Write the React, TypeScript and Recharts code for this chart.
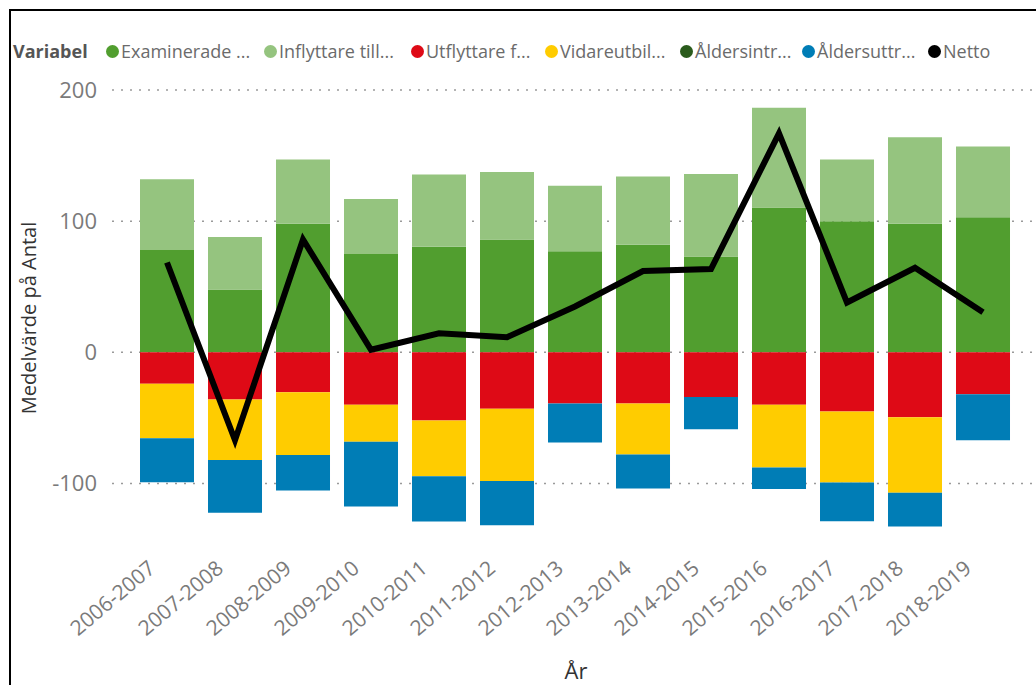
import React from 'react';
import { ComposedChart, Bar, Line, XAxis, YAxis, CartesianGrid } from 'recharts';

const categories = ['2006-2007', '2007-2008', '2008-2009', '2009-2010', '2010-2011', '2011-2012', '2012-2013', '2013-2014', '2014-2015', '2015-2016', '2016-2017', '2017-2018', '2018-2019'];
const examinerade = [78, 48, 98, 75, 80.5, 86, 77, 82, 73, 110.5, 100, 98, 103];
const inflyttare = [54, 40, 49, 42, 55, 51.5, 50, 52, 63, 76, 47, 66, 54];
const utflyttare = [-24, -36, -30.5, -40, -52, -43, -39, -39, -34, -40, -45, -49.5, -32];
const vidareutbildning = [-41.5, -46, -47.7, -28.2, -42.4, -55.1, 0, -38.9, 0, -47.8, -54.3, -57.6, 0];
const aldersintrade = [0, 0, 0, 0, 0, 0, 0, 0, 0, 0, 0, 0, 0];
const aldersuttrade = [-33.5, -40.3, -27.1, -49.3, -34.6, -33.8, -29.7, -25.8, -24.6, -16.4, -29.5, -25.6, -35.1];
const netto = [68.5, -67, 86, 2, 14.5, 11.5, 35, 62, 63.5, 167, 38, 64.5, 30.5];
const yTicks = [-100, 0, 100, 200];

const seriesNames = ['Examinerade ...', 'Inflyttare till...', 'Utflyttare f...', 'Vidareutbil...', 'Åldersintr...', 'Åldersuttr...', 'Netto'];
const seriesColors = ['#519E2F', '#95C47F', '#DE0A16', '#FFCC00', '#2A5B1C', '#007DB6', '#000000'];
const legendX = [113, 271, 418, 552, 687, 809, 935];

const data = categories.map((c, i) => ({
  year: c,
  examinerade: examinerade[i],
  inflyttare: inflyttare[i],
  utflyttare: utflyttare[i],
  vidare: vidareutbildning[i],
  aldersintr: aldersintrade[i],
  aldersuttr: aldersuttrade[i],
  netto: netto[i],
}));

const FONT = '"Open Sans", "Noto Sans", sans-serif';

const XTick = (props: any) => {
  const { x, y, payload } = props;
  return (
    <g transform={`translate(${x - 20},${y + 23})`}>
      <text x={0} y={0} dy="0.72em" textAnchor="end" transform="rotate(-40)" fill="#7a7a7a" fontSize={21} fontFamily={FONT}>
        {payload.value}
      </text>
    </g>
  );
};

export default function App() {
  return (
    <div style={{ position: 'absolute', left: 0, top: 0, width: 1036, height: 685, background: '#fff', overflow: 'hidden', fontFamily: FONT }}>
      <div style={{ position: 'absolute', left: 9, top: 9, width: 1027, height: 676, borderLeft: '2px solid #000', borderTop: '2px solid #000', boxSizing: 'border-box' }} />
      <div style={{ position: 'absolute', left: 13, top: 38, fontSize: 18, fontWeight: 700, color: '#555', lineHeight: '26px' }}>Variabel</div>
      {seriesNames.map((n, i) => (
        <div key={n} style={{ position: 'absolute', left: legendX[i] - 7, top: 38, height: 26, display: 'flex', alignItems: 'center', fontSize: 18, color: '#6b6b6b', whiteSpace: 'nowrap' }}>
          <span style={{ display: 'inline-block', width: 13, height: 13, borderRadius: '50%', background: seriesColors[i], marginRight: 2 }} />
          <span>{n}</span>
        </div>
      ))}
      <div style={{ position: 'absolute', left: 0, top: 0 }}>
        <ComposedChart width={1036} height={685} data={data} stackOffset="sign" margin={{ top: 90, right: 3, bottom: 0, left: 0 }} barCategoryGap="10.3%">
          <CartesianGrid vertical={false} horizontalValues={yTicks} stroke="#9a9a9a" strokeDasharray="2 7" strokeWidth={1.5} />
          <XAxis dataKey="year" tickLine={false} axisLine={false} tickSize={0} tickMargin={0} interval={0} height={149} padding={{ left: 21, right: 16 }} tick={<XTick />}
            label={(p: any) => <text x={576} y={679} textAnchor="middle" fill="#333" fontSize={22} fontFamily={FONT}>År</text>} />
          <YAxis type="number" domain={[-140, 200]} ticks={yTicks} width={112} tickLine={false} axisLine={false} tickMargin={9}
            tick={{ fill: '#7a7a7a', fontSize: 22, fontFamily: FONT }}
            label={(p: any) => <text x={28} y={318} transform="rotate(-90, 28, 318)" textAnchor="middle" dominantBaseline="central" fill="#333" fontSize={20} fontFamily={FONT}>Medelvärde på Antal</text>} />
          <Bar dataKey="examinerade" name={seriesNames[0]} stackId="a" fill={seriesColors[0]} isAnimationActive={false} />
          <Bar dataKey="inflyttare" name={seriesNames[1]} stackId="a" fill={seriesColors[1]} isAnimationActive={false} />
          <Bar dataKey="utflyttare" name={seriesNames[2]} stackId="a" fill={seriesColors[2]} isAnimationActive={false} />
          <Bar dataKey="vidare" name={seriesNames[3]} stackId="a" fill={seriesColors[3]} isAnimationActive={false} />
          <Bar dataKey="aldersintr" name={seriesNames[4]} stackId="a" fill={seriesColors[4]} isAnimationActive={false} />
          <Bar dataKey="aldersuttr" name={seriesNames[5]} stackId="a" fill={seriesColors[5]} isAnimationActive={false} />
          <Line dataKey="netto" name={seriesNames[6]} type="linear" stroke="#000" strokeWidth={6} dot={false} activeDot={false} isAnimationActive={false} />
        </ComposedChart>
      </div>
    </div>
  );
}
